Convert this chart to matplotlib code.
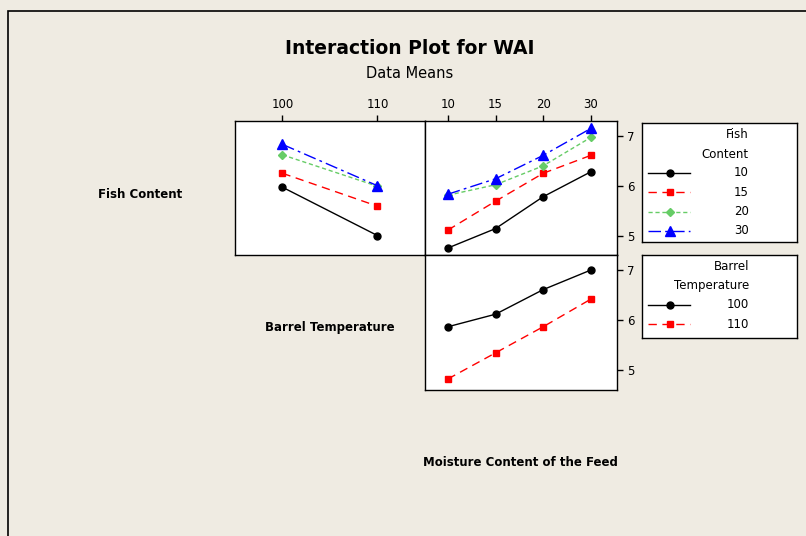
import matplotlib
matplotlib.use('Agg')
import matplotlib.pyplot as plt
from matplotlib.patches import Rectangle

# data means
barrel_temps = ['100', '110']
moisture = ['10', '15', '20', '30']
fish_levels = ['10', '15', '20', '30']

# fish content x barrel temperature
fish_by_barrel = {
    '10': [5.97, 5.00],
    '15': [6.25, 5.59],
    '20': [6.62, 5.99],
    '30': [6.83, 6.00],
}
# fish content x moisture
fish_by_moist = {
    '10': [4.75, 5.14, 5.78, 6.28],
    '15': [5.11, 5.69, 6.25, 6.61],
    '20': [5.81, 6.02, 6.40, 6.97],
    '30': [5.83, 6.14, 6.61, 7.15],
}
# barrel temperature x moisture
barrel_by_moist = {
    '100': [5.87, 6.12, 6.61, 7.00],
    '110': [4.83, 5.35, 5.87, 6.42],
}

bg = '#EFEBE2'
styles = [
    dict(color='black', marker='o', ls='-', ms=5),
    dict(color='red', marker='s', ls=(0, (6, 4)), ms=5),
    dict(color='#66CC66', marker='D', ls=(0, (3, 2)), ms=4.5),
    dict(color='blue', marker='^', ls=(0, (9, 3, 2, 3)), ms=6.5),
]

W, H = 806, 536
fig = plt.figure(figsize=(W / 100, H / 100), dpi=100, facecolor=bg)


def box(x0, y0, x1, y1):
    return [x0 / W, 1 - y1 / H, (x1 - x0) / W, (y1 - y0) / H]


fig.patches.append(Rectangle((8 / W, -0.1), 1.2, 1.1 - 11 / H, transform=fig.transFigure,
                             fill=False, ec='black', lw=1.2))

fig.text(410 / W, 1 - 48 / H, 'Interaction Plot for WAI', ha='center', va='center',
         fontsize=13.5, fontweight='bold')
fig.text(410 / W, 1 - 73 / H, 'Data Means', ha='center', va='center', fontsize=10.5)

ylim = (4.61, 7.3)

ax1 = fig.add_axes(box(235, 121, 425, 255))
ax2 = fig.add_axes(box(425, 121, 617, 255))
ax3 = fig.add_axes(box(425, 255, 617, 390))

for i, f in enumerate(fish_levels):
    ax1.plot(range(len(barrel_temps)), fish_by_barrel[f], lw=1, **styles[i])
    ax2.plot(range(len(moisture)), fish_by_moist[f], lw=1, **styles[i])
for i, b in enumerate(barrel_temps):
    ax3.plot(range(len(moisture)), barrel_by_moist[b], lw=1, **styles[i])

ax1.set_xlim(-0.5, 1.5)
ax1.set_xticks(range(len(barrel_temps)))
ax1.set_xticklabels(barrel_temps)
for ax in (ax2, ax3):
    ax.set_xlim(-0.48, 3.55)
    ax.set_xticks(range(len(moisture)))
    ax.set_xticklabels(moisture)

for ax in (ax1, ax2, ax3):
    ax.set_ylim(*ylim)
    ax.set_facecolor('white')
    for s in ax.spines.values():
        s.set_linewidth(1)
    ax.tick_params(labelsize=8.5, length=4, width=1, direction='out')

ax1.xaxis.tick_top()
ax2.xaxis.tick_top()
ax1.set_yticks([])
ax3.set_xticks([])
for ax in (ax2, ax3):
    ax.yaxis.tick_right()
    ax.set_yticks([5, 6, 7])

fig.text(140 / W, 1 - 194 / H, 'Fish Content', ha='center', va='center',
         fontsize=8.5, fontweight='bold')
fig.text(330 / W, 1 - 328 / H, 'Barrel Temperature', ha='center', va='center',
         fontsize=8.5, fontweight='bold')
fig.text(520 / W, 1 - 462 / H, 'Moisture Content of the Feed', ha='center', va='center',
         fontsize=8.5, fontweight='bold')


def legend_box(rect, title, labels, h):
    lax = fig.add_axes(box(*rect))
    lax.set_xlim(0, rect[2] - rect[0])
    lax.set_ylim(rect[3] - rect[1], 0)
    lax.set_xticks([])
    lax.set_yticks([])
    lax.set_facecolor('white')
    for s in lax.spines.values():
        s.set_linewidth(1)
    ty = 11
    for t in title:
        lax.text(107, ty, t, ha='right', va='center', fontsize=8.5)
        ty += 20
    y = ty - 1
    for i, lab in enumerate(labels):
        st = styles[i]
        lax.plot([6, 48], [y, y], color=st['color'], ls=st['ls'], lw=1)
        lax.plot([28], [y], color=st['color'], marker=st['marker'], ms=st['ms'], ls='none')
        lax.text(107, y, lab, ha='right', va='center', fontsize=8.5)
        y += h


legend_box((642, 123, 797, 242), ['Fish', 'Content'], fish_levels, 19.3)
legend_box((642, 255, 797, 338), ['Barrel', 'Temperature'], barrel_temps, 19.3)

fig.savefig('out.png', dpi=100, facecolor=bg)
